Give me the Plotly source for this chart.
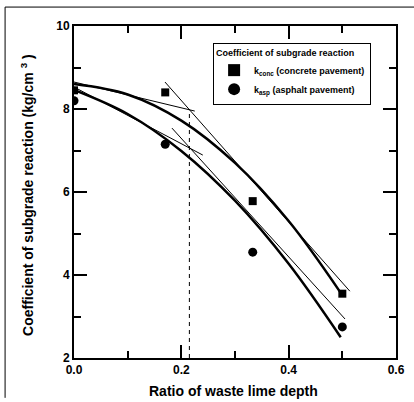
import plotly.graph_objects as go

# measured data
ratio = [0.0, 0.17, 0.333, 0.5]
k_conc = [8.45, 8.4, 5.78, 3.55]
k_asp = [8.2, 7.15, 4.55, 2.75]

# fitted curves
fit_x = [0.0, 0.1, 0.2, 0.3, 0.4, 0.497]
fit_conc = [8.6, 8.35, 7.72, 6.7, 5.3, 3.57]
fit_asp = [8.46, 7.88, 6.99, 5.79, 4.27, 2.5]

# tangent construction lines
tan_conc1_x = [0.0, 0.225]
tan_conc1_y = [8.65, 7.95]
tan_conc2_x = [0.1695, 0.514]
tan_conc2_y = [8.65, 3.61]
tan_asp1_x = [0.0, 0.24]
tan_asp1_y = [8.53, 6.89]
tan_asp2_x = [0.1825, 0.505]
tan_asp2_y = [7.54, 2.94]

# dashed critical ratio
crit_x = [0.215, 0.215]
crit_y = [2.0, 8.0]

x_ticks = [0.0, 0.2, 0.4, 0.6]
y_ticks = [2, 4, 6, 8, 10]

x_title = "Ratio of waste lime depth"
y_title = "Coefficient of subgrade reaction (kg/cm <sup>3</sup> )"

FONT = "Liberation Sans"

fig = go.Figure()

for tx, ty in [(tan_conc1_x, tan_conc1_y), (tan_conc2_x, tan_conc2_y),
               (tan_asp1_x, tan_asp1_y), (tan_asp2_x, tan_asp2_y)]:
    fig.add_trace(go.Scatter(x=tx, y=ty, mode="lines", showlegend=False,
                             line=dict(color="black", width=1), hoverinfo="skip"))

fig.add_trace(go.Scatter(x=fit_x, y=fit_conc, mode="lines", showlegend=False,
                         line=dict(color="black", width=2.5, shape="spline")))
fig.add_trace(go.Scatter(x=fit_x, y=fit_asp, mode="lines", showlegend=False,
                         line=dict(color="black", width=2.5, shape="spline")))

fig.add_trace(go.Scatter(x=crit_x, y=crit_y, mode="lines", showlegend=False,
                         line=dict(color="black", width=1, dash="4px,4px")))

fig.add_trace(go.Scatter(x=ratio, y=k_conc, mode="markers",
                         name="k<sub>conc</sub> (concrete pavement)",
                         marker=dict(symbol="square", size=8, color="black")))
fig.add_trace(go.Scatter(x=ratio, y=k_asp, mode="markers",
                         name="k<sub>asp</sub> (asphalt pavement)",
                         marker=dict(symbol="circle", size=9, color="black")))

axis_common = dict(
    showline=True, linecolor="black", linewidth=2, mirror="ticks",
    ticks="inside", ticklen=13, tickwidth=2, tickcolor="black",
    showgrid=False, zeroline=False, automargin=False,
    tickfont=dict(family=FONT, size=12, color="black", weight="bold"),
)

fig.update_xaxes(
    range=[0, 0.6], tickvals=x_ticks, ticktext=[f"{v:.1f}" for v in x_ticks],
    minor=dict(ticks="inside", ticklen=7, tickwidth=2, tickcolor="black", dtick=0.1, tick0=0, showgrid=False),
    **axis_common)
fig.update_yaxes(
    range=[2, 10], tickvals=y_ticks, ticktext=[str(v) for v in y_ticks],
    minor=dict(ticks="inside", ticklen=7, tickwidth=2, tickcolor="black", dtick=1, tick0=0, showgrid=False),
    **axis_common)

title_font = dict(family=FONT, size=14, color="black", weight="bold")

fig.update_layout(
    width=414, height=402, autosize=False,
    margin=dict(l=74, r=18, t=26, b=44),
    paper_bgcolor="white", plot_bgcolor="white",
    legend=dict(
        x=0.432, y=0.949, xanchor="left", yanchor="top",
        bgcolor="white", bordercolor="black", borderwidth=1,
        title=dict(text="Coefficient of subgrade reaction", side="top",
                   font=dict(family=FONT, size=9, color="black", weight="bold")),
        font=dict(family=FONT, size=9, color="black", weight="bold"),
        itemsizing="constant",
    ),
    annotations=[
        dict(text=x_title, xref="paper", yref="paper", x=0.494, y=-0.099,
             xanchor="center", yanchor="middle", showarrow=False, font=title_font),
        dict(text=y_title, xref="paper", yref="paper", x=-0.146, y=0.491,
             xanchor="center", yanchor="middle", textangle=-90, showarrow=False, font=title_font),
    ],
    shapes=[
        dict(type="line", xref="paper", yref="paper", x0=-0.214, x1=1.06, y0=1.057, y1=1.057,
             line=dict(color="black", width=1)),
        dict(type="line", xref="paper", yref="paper", x0=-0.214, x1=-0.214, y0=1.057, y1=-0.12,
             line=dict(color="black", width=1)),
    ],
)

fig.write_html("out.html")
